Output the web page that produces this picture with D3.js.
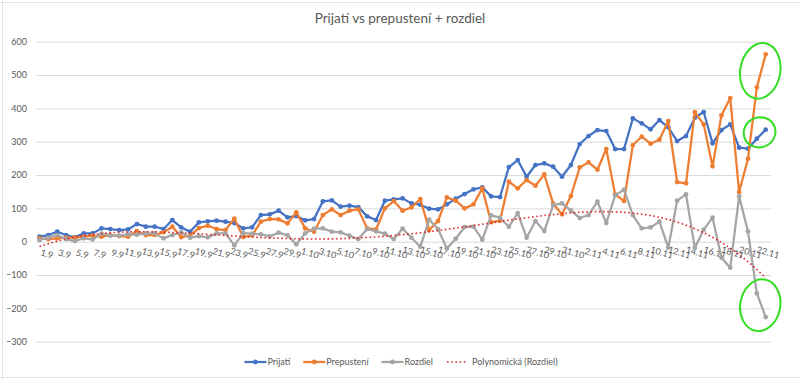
<!DOCTYPE html>
<html>
<head>
<meta charset="utf-8">
<script src="https://cdn.jsdelivr.net/npm/d3@7/dist/d3.min.js"></script>
<style>
  body { margin: 0; background: #fff; }
  svg { display: block; }
  text { font-family: Lato, "Open Sans", sans-serif; fill: #595959; }
</style>
</head>
<body>
<svg id="chart" width="800" height="380"></svg>
<script>
// dates on the category axis
var datumy = ["1.9","2.9","3.9","4.9","5.9","6.9","7.9","8.9","9.9","10.9",
  "11.9","12.9","13.9","14.9","15.9","16.9","17.9","18.9","19.9","20.9",
  "21.9","22.9","23.9","24.9","25.9","26.9","27.9","28.9","29.9","30.9",
  "1.10","2.10","3.10","4.10","5.10","6.10","7.10","8.10","9.10","10.10",
  "11.10","12.10","13.10","14.10","15.10","16.10","17.10","18.10","19.10","20.10",
  "21.10","22.10","23.10","24.10","25.10","26.10","27.10","28.10","29.10","30.10",
  "31.10","1.11","2.11","3.11","4.11","5.11","6.11","7.11","8.11","9.11",
  "10.11","11.11","12.11","13.11","14.11","15.11","16.11","17.11","18.11","19.11",
  "20.11","21.11","22.11"];

var prijati = [15,20,30,20,13,25,25,40,38,35,37,53,45,45,38,65,
  43,30,58,61,63,60,56,40,43,
  80,82,93,73,77,64,68,
  121,124,105,108,104,76,65,123,127,130,115,111,99,97,112,129,143,157,163,136,134,
  224,245,195,230,235,225,195,230,293,317,335,332,278,278,370,355,337,365,343,302,317,372,389,295,335,352,282,279,309,336];

var prepusteni = [10,8,10,12,12,15,18,15,20,17,15,32,20,20,28,45,
  14,18,41,48,38,35,69,14,19,
  60,68,67,55,88,40,30,
  80,97,80,93,97,40,37,100,122,93,103,128,35,62,133,123,100,112,160,58,63,
  180,160,185,168,202,114,82,137,223,238,216,278,142,122,290,315,294,306,362,179,175,389,352,226,379,431,149,249,463,562];

var rozdiel = [5,12,20,8,2,10,7,24,18,18,22,21,25,25,10,20,
  28,12,17,13,25,25,-11,26,24,
  22,16,27,19,-8,25,39,
  40,30,28,18,8,38,31,24,8,39,12,-15,66,38,-20,9,44,45,6,79,72,
  45,86,12,62,32,110,115,94,71,80,120,56,139,156,80,40,43,60,-18,123,142,-18,36,72,-48,-78,136,31,-155,-226];

var yTicks = [-300,-200,-100,0,100,200,300,400,500,600];
var nazov = "Prijatí vs prepustení + rozdiel";
var trendOrder = 4;

var serie = [
  {name: "Prijatí", values: prijati, color: "#4472C4"},
  {name: "Prepustení", values: prepusteni, color: "#ED7D31"},
  {name: "Rozdiel", values: rozdiel, color: "#A5A5A5"}
];

var svg = d3.select("#chart");

// spreadsheet cells peeking around the chart object
var okolie = svg.append("g").attr("stroke", "#e3e3e3").attr("stroke-width", 1);
okolie.append("line").attr("x1", 0).attr("x2", 800).attr("y1", 2.5).attr("y2", 2.5);
okolie.append("line").attr("x1", 0).attr("x2", 800).attr("y1", 377.5).attr("y2", 377.5);
okolie.append("line").attr("x1", 2.5).attr("x2", 2.5).attr("y1", 0).attr("y2", 380);

var x = d3.scalePoint().domain(datumy).range([39.5, 765.7]);
var xLin = d3.scaleLinear().domain([0, datumy.length - 1]).range([39.5, 765.7]);
var y = d3.scaleLinear().domain([-300, 600]).range([341.7, 41.7]);

var gridLeft = 36, gridRight = 771;

// y axis + gridlines
var yAxis = svg.append("g")
  .attr("transform", "translate(" + gridLeft + ",0)")
  .call(d3.axisLeft(y).tickValues(yTicks).tickSize(-(gridRight - gridLeft)).tickPadding(9));
yAxis.select(".domain").remove();
yAxis.selectAll(".tick line").attr("stroke", "#d9d9d9");
yAxis.selectAll(".tick text")
  .style("font-size", "9px").attr("fill", "#595959");

// category labels, every second date, tilted
var xAxis = svg.append("g")
  .attr("transform", "translate(0," + y(0) + ")")
  .call(d3.axisBottom(x).tickValues(datumy.filter(function(d, i){ return i % 2 == 0; })).tickSize(0));
xAxis.select(".domain").remove();
xAxis.selectAll(".tick text")
  .attr("y", 0).attr("dy", 0)
  .attr("text-anchor", "end")
  .attr("transform", "translate(12,17) rotate(16)")
  .style("font-size", "9px").attr("fill", "#595959");

// series
var line = d3.line()
  .x(function(d, i){ return x(datumy[i]); })
  .y(function(d){ return y(d); });

serie.forEach(function(s){
  svg.append("path")
    .datum(s.values)
    .attr("d", line)
    .attr("fill", "none")
    .attr("stroke", s.color)
    .attr("stroke-width", 2.25)
    .attr("stroke-linejoin", "round");
  svg.append("g").selectAll("circle")
    .data(s.values)
    .enter()
    .append("circle")
    .attr("cx", function(d, i){ return x(datumy[i]); })
    .attr("cy", function(d){ return y(d); })
    .attr("r", 2.4)
    .attr("fill", s.color);
});

// polynomial trendline of Rozdiel (least squares, like Excel)
function polyfit(ys, order){
  var n = ys.length, mid = (n - 1) / 2;
  var m = order + 1, A = [], b = [];
  for (var r = 0; r < m; r++){
    A.push([]);
    for (var c = 0; c < m; c++){
      var s = 0;
      for (var k = 0; k < n; k++) s += Math.pow((k - mid) / mid, r + c);
      A[r].push(s);
    }
    var t = 0;
    for (var k2 = 0; k2 < n; k2++) t += ys[k2] * Math.pow((k2 - mid) / mid, r);
    b.push(t);
  }
  for (var p = 0; p < m; p++){
    var best = p;
    for (var q = p + 1; q < m; q++) if (Math.abs(A[q][p]) > Math.abs(A[best][p])) best = q;
    var tmp = A[p]; A[p] = A[best]; A[best] = tmp;
    var tb = b[p]; b[p] = b[best]; b[best] = tb;
    for (var q2 = p + 1; q2 < m; q2++){
      var f = A[q2][p] / A[p][p];
      for (var c2 = p; c2 < m; c2++) A[q2][c2] -= f * A[p][c2];
      b[q2] -= f * b[p];
    }
  }
  var coef = new Array(m);
  for (var i = m - 1; i >= 0; i--){
    var s2 = b[i];
    for (var j = i + 1; j < m; j++) s2 -= A[i][j] * coef[j];
    coef[i] = s2 / A[i][i];
  }
  return function(xv){
    var tt = (xv - mid) / mid, v = 0;
    for (var e = m - 1; e >= 0; e--) v = v * tt + coef[e];
    return v;
  };
}

var trend = polyfit(rozdiel, trendOrder);
var trendPts = d3.range(0, datumy.length - 1 + 0.001, 0.25);
svg.append("path")
  .datum(trendPts)
  .attr("d", d3.line().x(function(d){ return xLin(d); }).y(function(d){ return y(trend(d)); }))
  .attr("fill", "none")
  .attr("stroke", "#E0282E")
  .attr("stroke-width", 1.6)
  .attr("stroke-dasharray", "1.6,2.6");

// hand drawn green rings round the last two points
var posledne = datumy.length - 1;
serie.forEach(function(s, k){
  var cx = (x(datumy[posledne - 1]) + x(datumy[posledne])) / 2 - 1;
  var cy = (y(s.values[posledne - 1]) + y(s.values[posledne])) / 2;
  var rx = [16, 20, 20][k], ry = [15, 28, 26][k];
  svg.append("ellipse")
    .attr("cx", cx).attr("cy", cy - (k == 0 ? 2 : 0))
    .attr("rx", rx).attr("ry", ry)
    .attr("transform", "rotate(" + (k == 0 ? -20 : 10) + "," + cx + "," + cy + ")")
    .attr("fill", "none")
    .attr("stroke", "#33DD22")
    .attr("stroke-width", 2);
});

// title
svg.append("text")
  .attr("x", 400).attr("y", 23)
  .attr("text-anchor", "middle")
  .style("font-size", "13.5px")
  .text(nazov);

// legend
var legenda = serie.map(function(s){ return {name: s.name, color: s.color, typ: "serie"}; });
legenda.push({name: "Polynomická (Rozdiel)", color: "#E0282E", typ: "trend"});

var lg = svg.append("g");
var px = 0;
legenda.forEach(function(d){
  var g = lg.append("g").attr("transform", "translate(" + px + ",0)");
  if (d.typ == "serie"){
    g.append("line").attr("x1", 0).attr("x2", 22).attr("y1", 0).attr("y2", 0)
      .attr("stroke", d.color).attr("stroke-width", 2.25);
    g.append("circle").attr("cx", 11).attr("cy", 0).attr("r", 2.4).attr("fill", d.color);
  } else {
    g.append("line").attr("x1", 1).attr("x2", 21).attr("y1", 0).attr("y2", 0)
      .attr("stroke", d.color).attr("stroke-width", 1.6).attr("stroke-dasharray", "1.6,2.6");
  }
  var t = g.append("text").attr("x", d.typ == "serie" ? 23 : 26).attr("y", 3.2)
    .style("font-size", "9px").text(d.name);
  px += (d.typ == "serie" ? 23 : 26) + t.node().getComputedTextLength() + 13;
});
px -= 13;
lg.attr("transform", "translate(" + (401 - px / 2) + ",362)");
</script>
</body>
</html>
